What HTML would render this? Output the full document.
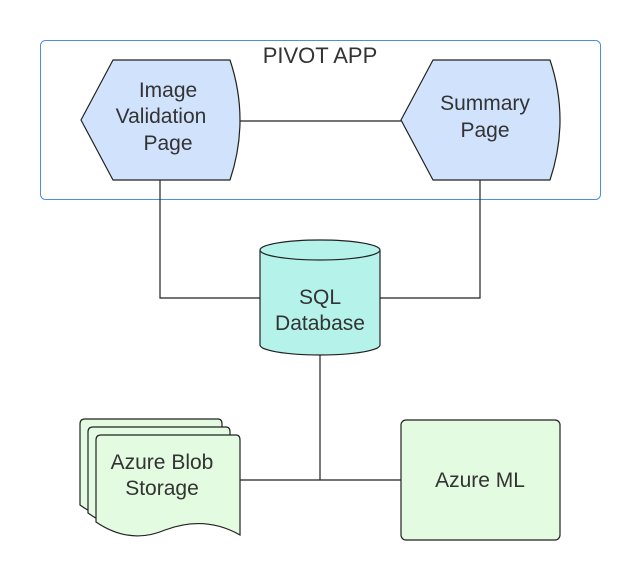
<!DOCTYPE html>
<html><head><style>body{margin:0;background:#fff}</style></head><body>
<svg width="640" height="580" xmlns="http://www.w3.org/2000/svg" font-family="Liberation Sans, sans-serif" fill="#333">
<rect width="640" height="580" fill="#fff"/>
<rect x="40.5" y="40.5" width="560" height="159" rx="5" fill="none" stroke="#4a90e2" stroke-width="1"/>
<text x="320" y="63" text-anchor="middle" font-size="22">PIVOT APP</text>
<g stroke="#222" stroke-width="1.2" fill="none">
<path d="M240 121H401"/>
<path d="M160 180V298H260"/>
<path d="M480 180V298H380"/>
<path d="M320 355V480"/>
<path d="M240 480H401"/>
</g>
<path d="M113 60H230Q250 120 230 180H113L81 120Z" fill="#d0e2fc" stroke="#222" stroke-width="1.2" stroke-linejoin="round"/>
<path d="M433 60H550Q570 120 550 180H433L401 120Z" fill="#d0e2fc" stroke="#222" stroke-width="1.2" stroke-linejoin="round"/>
<g font-size="21" text-anchor="middle">
<text x="168" y="97">Image</text><text x="161" y="123">Validation</text><text x="168" y="150">Page</text>
<text x="485" y="110">Summary</text><text x="485" y="137">Page</text>
</g>
<path d="M260 250V345A60 10 0 0 0 380 345V250" fill="#b4f2ea" stroke="#222" stroke-width="1.2"/>
<ellipse cx="320" cy="250" rx="60" ry="10" fill="#b4f2ea" stroke="#222" stroke-width="1.2"/>
<g font-size="21" text-anchor="middle"><text x="320" y="304">SQL</text><text x="320" y="330">Database</text></g>
<g stroke="#222" stroke-width="1.2" fill="#e2fbe1">
<path d="M80 424Q80 419 85 419H218Q222 419 222 424V510Q190 495 150 515Q115 530 80 505Z"/>
<path d="M88 432Q88 427 93 427H226Q230 427 230 432V518Q198 503 158 523Q123 538 88 513Z"/>
<path d="M96 440Q96 435 101 435H236Q240 435 240 440V535Q205 515 165 530Q130 545 96 522Z"/>
</g>
<g font-size="21" text-anchor="middle"><text x="162" y="469">Azure Blob</text><text x="162" y="495">Storage</text></g>
<rect x="401" y="420" width="159" height="120" rx="5" fill="#e2fbe1" stroke="#222" stroke-width="1.2"/>
<text x="480" y="487" font-size="21" text-anchor="middle">Azure ML</text>
</svg>
</body></html>
